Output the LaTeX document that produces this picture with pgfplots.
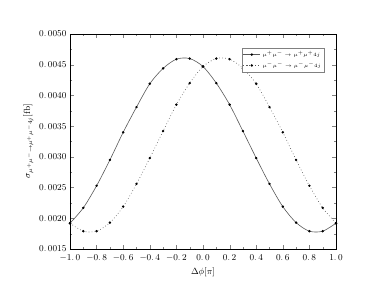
\documentclass[border=0pt]{standalone}
\usepackage{pgfplots}
\pgfplotsset{compat=1.18}
\begin{document}
\begin{tikzpicture}
\path[use as bounding box] (-70pt,-50pt) rectangle (320pt,249pt);
\begin{axis}[
  at={(0pt,0pt)}, anchor=south west,
  scale only axis, width=266pt, height=215pt,
  xmin=-1, xmax=1, ymin=0.0015, ymax=0.005,
  xtick={-1,-0.8,-0.6,-0.4,-0.2,0,0.2,0.4,0.6,0.8,1}, minor x tick num=1,
  ytick={0.0015,0.002,0.0025,0.003,0.0035,0.004,0.0045,0.005}, minor y tick num=1,
  tick align=inside, major tick length=4pt, minor tick length=2pt,
  scaled y ticks=false,
  xticklabel style={/pgf/number format/fixed, /pgf/number format/fixed zerofill, /pgf/number format/precision=1, /pgf/number format/dec sep={.\,}, yshift=-2pt},
  yticklabel style={/pgf/number format/fixed, /pgf/number format/fixed zerofill, /pgf/number format/precision=4, /pgf/number format/dec sep={.\,}},
  tick label style={font=\small},
  xlabel={$\Delta\phi[\pi]$}, ylabel={$\sigma_{\mu^{+}\mu^{-}\rightarrow\mu^{+}\mu^{-}4j}$[fb]},
  label style={font=\small},
  ylabel style={yshift=-1pt},
  axis line style={line width=0.6pt},
  legend style={at={(0.955,0.935)}, anchor=north east, font=\tiny, draw=gray, line width=0.4pt,
    inner sep=1pt},
  legend cell align=left,
  legend entries={{$\mu^{+}\mu^{-}\rightarrow\mu^{+}\mu^{+}4j$},{$\mu^{-}\mu^{-}\rightarrow\mu^{-}\mu^{-}4j$}},
]
\addplot[smooth, gray!70!black, line width=0.6pt, mark=*, mark size=0.9pt, mark options={black, solid, fill=black}] coordinates {
(-1.0,0.00192) (-0.9,0.00217) (-0.8,0.00253) (-0.7,0.00295) (-0.6,0.00340)
(-0.5,0.00381) (-0.4,0.00419) (-0.3,0.00444) (-0.2,0.00459) (-0.1,0.00460)
(0.0,0.00447) (0.1,0.00420) (0.2,0.00385) (0.3,0.00342) (0.4,0.00298)
(0.5,0.00256) (0.6,0.00219) (0.7,0.00193) (0.8,0.00179) (0.9,0.00179) (1.0,0.00192)};
\addplot[smooth, gray!70!black, line width=0.6pt, dash pattern=on 0.7pt off 2.3pt, mark=*, mark size=0.9pt, mark options={black, solid, fill=black}] coordinates {
(-1.0,0.00192) (-0.9,0.00179) (-0.8,0.00179) (-0.7,0.00193) (-0.6,0.00219)
(-0.5,0.00256) (-0.4,0.00298) (-0.3,0.00342) (-0.2,0.00385) (-0.1,0.00420)
(0.0,0.00447) (0.1,0.00460) (0.2,0.00459) (0.3,0.00444) (0.4,0.00419)
(0.5,0.00381) (0.6,0.00340) (0.7,0.00295) (0.8,0.00253) (0.9,0.00217) (1.0,0.00192)};
\end{axis}
\end{tikzpicture}
\end{document}
